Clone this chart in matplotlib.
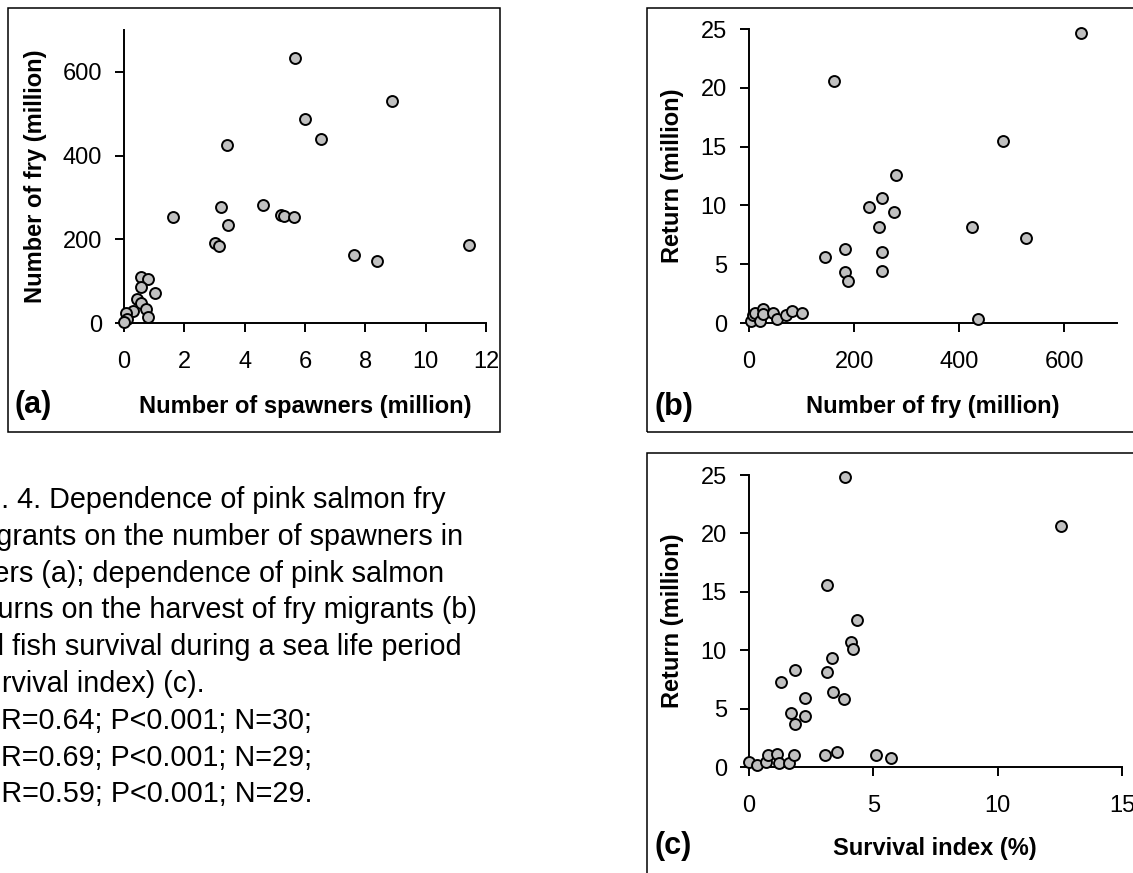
import matplotlib
matplotlib.use('Agg')
import matplotlib.pyplot as plt
from matplotlib.patches import Rectangle

W, H = 1133, 873
plt.rcParams['font.family'] = ['Liberation Sans', 'DejaVu Sans']

# ---- data ----
spawners_a = [5.67, 6.00, 6.53, 3.42, 1.64, 3.21, 3.44, 3.02, 3.16, 4.62, 5.20, 5.30, 5.62,
              7.61, 8.38, 8.89, 11.45, 0.56, 0.79, 0.56, 1.03, 0.44, 0.58, 0.72, 0.78,
              0.31, 0.08, 0.11, 0.01]
fry_a = [632, 488, 440, 425, 253, 276, 233, 191, 185, 281, 258, 256, 253,
         162, 148, 530, 187, 109, 105, 86, 71, 57, 47, 34, 14,
         28, 23, 9, 3]

fry_b = [632, 161, 484, 279, 253, 229, 275, 248, 424, 527, 183, 145, 253, 183, 188, 253,
         435, 4, 8, 11, 20, 27, 26, 46, 54, 70, 81, 100]
return_b = [24.7, 20.6, 15.5, 12.6, 10.6, 9.9, 9.4, 8.2, 8.2, 7.2, 6.3, 5.6, 6.0, 4.3, 3.6, 4.4,
            0.3, 0.15, 0.7, 0.85, 0.15, 1.2, 0.8, 0.85, 0.3, 0.7, 1.0, 0.85]

survival_c = [3.86, 12.54, 3.13, 4.35, 4.10, 4.19, 3.32, 3.13, 1.86, 1.29, 3.38, 3.81, 2.26,
              1.69, 2.26, 1.86, 0.0, 0.33, 0.67, 0.75, 1.14, 1.21, 1.61, 1.81, 3.07, 3.52,
              5.09, 5.71]
return_c = [24.8, 20.6, 15.6, 12.6, 10.7, 10.1, 9.3, 8.1, 8.3, 7.3, 6.4, 5.8, 5.9,
            4.6, 4.4, 3.7, 0.4, 0.2, 0.4, 1.0, 1.1, 0.3, 0.3, 1.0, 1.0, 1.3,
            1.0, 0.8]

xticks_a = [0, 2, 4, 6, 8, 10, 12]
yticks_a = [0, 200, 400, 600]
xticks_b = [0, 200, 400, 600]
yticks_bc = [0, 5, 10, 15, 20, 25]
xticks_c = [0, 5, 10, 15]

caption = [
    "Fig. 4. Dependence of pink salmon fry",
    "migrants on the number of spawners in",
    "rivers (a); dependence of pink salmon",
    "returns on the harvest of fry migrants (b)",
    "and fish survival during a sea life period",
    "(survival index) (c).",
    "(a) R=0.64; P<0.001; N=30;",
    "(b) R=0.69; P<0.001; N=29;",
    "(c) R=0.59; P<0.001; N=29.",
]
caption_x = [-39, -34, -37, -36, -44, -38, -42, -42, -40]

# ---- figure ----
fig = plt.figure(figsize=(W / 100, H / 100), dpi=100)


def px_axes(l, t, r, b):
    return fig.add_axes([l / W, 1 - b / H, (r - l) / W, (b - t) / H])


def style(ax, xlim, xticks, ylim, yticks):
    ax.set_xlim(xlim)
    ax.set_ylim(ylim)
    ax.set_xticks(xticks)
    ax.set_yticks(yticks)
    for s in ['top', 'right']:
        ax.spines[s].set_visible(False)
    for s in ['left', 'bottom']:
        ax.spines[s].set_linewidth(1.4)
    ax.tick_params(direction='out', length=6.5, width=1.4, labelsize=17)
    ax.tick_params(axis='x', pad=14)
    ax.tick_params(axis='y', pad=9.5)
    ax.patch.set_alpha(0)


def dots(ax, x, y):
    ax.scatter(x, y, s=62, facecolor='#c0c0c0', edgecolor='black', linewidths=1.4,
               zorder=3, clip_on=False)


def box(l, t, r, b):
    fig.patches.append(Rectangle((l / W, 1 - b / H), (r - l) / W, (b - t) / H,
                                 transform=fig.transFigure, fill=False,
                                 lw=1.1, ec='black'))


def ftext(x, y, s, **kw):
    fig.text(x / W, 1 - y / H, s, **kw)


# panel (a)
box(8, 8, 500, 432)
axa = px_axes(124, 30, 486, 323)
style(axa, (0, 12), xticks_a, (0, 700), yticks_a)
dots(axa, spawners_a, fry_a)
ftext(36, 176, "Number of fry (million)", rotation=90, ha='center', va='center',
      fontsize=17, fontweight='bold')
ftext(305, 406, "Number of spawners (million)", ha='center', va='center',
      fontsize=17, fontweight='bold')
ftext(15, 405, "(a)", ha='left', va='center', fontsize=22, fontweight='bold')

# panel (b)
box(647, 8, 1140, 432)
axb = px_axes(749, 29, 1117, 323)
style(axb, (0, 700), xticks_b, (0, 25), yticks_bc)
dots(axb, fry_b, return_b)
ftext(673, 176, "Return (million)", rotation=90, ha='center', va='center',
      fontsize=17, fontweight='bold')
ftext(933, 407, "Number of fry (million)", ha='center', va='center',
      fontsize=17, fontweight='bold')
ftext(655, 407, "(b)", ha='left', va='center', fontsize=22, fontweight='bold')

# panel (c)
box(647, 453, 1140, 880)
axc = px_axes(749, 475, 1122, 767)
style(axc, (0, 15), xticks_c, (0, 25), yticks_bc)
dots(axc, survival_c, return_c)
ftext(673, 621, "Return (million)", rotation=90, ha='center', va='center',
      fontsize=17, fontweight='bold')
ftext(935, 848, "Survival index (%)", ha='center', va='center',
      fontsize=17, fontweight='bold')
ftext(655, 846, "(c)", ha='left', va='center', fontsize=22, fontweight='bold')

# caption (its left part runs off the page, as in the reference)
for i, (line, x0) in enumerate(zip(caption, caption_x)):
    ftext(x0, 508 + 36.8 * i, line, ha='left', va='baseline', fontsize=20.7)

fig.savefig('out.png', dpi=100)
